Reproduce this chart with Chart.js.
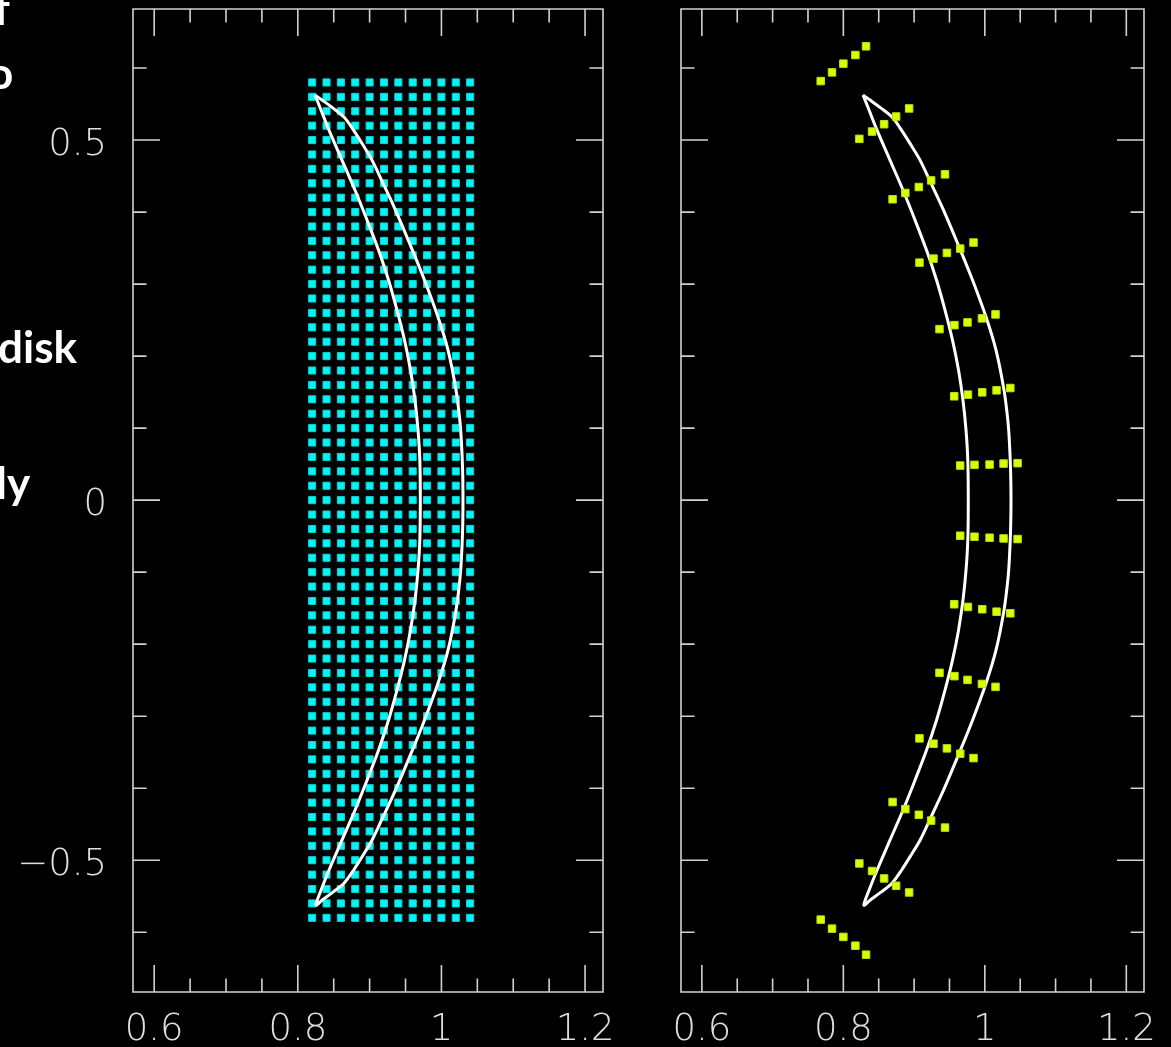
<!DOCTYPE html>
<html>
<head>
<meta charset="utf-8">
<script src="https://cdn.jsdelivr.net/npm/chart.js@4.4.1/dist/chart.umd.min.js"></script>
<style>
html,body{margin:0;padding:0;background:#000;width:1171px;height:1047px;overflow:hidden;position:relative;}
canvas{position:absolute;top:0;}
#c1{left:0px;}
#c2{left:640px;}
.side{position:absolute;color:#fff;font-family:Lato,'Open Sans',sans-serif;font-weight:700;font-size:44px;line-height:44px;white-space:nowrap;}
</style>
</head>
<body>
<canvas id="c1" width="640" height="1047"></canvas>
<canvas id="c2" width="531" height="1047"></canvas>
<div class="side" style="left:-6px;top:-14px;">f</div>
<div class="side" style="left:-12px;top:50px;">o</div>
<div class="side" style="left:-2px;top:324px;">disk</div>
<div class="side" style="left:-4px;top:460px;">ly</div>
<script>
// ---------- axis ticks ----------
const majorX = [0.6, 0.8, 1.0, 1.2];
const minorX = [0.65, 0.7, 0.75, 0.85, 0.9, 0.95, 1.05, 1.1, 1.15];
const majorY = [-0.5, 0, 0.5];
const minorY = [-0.6, -0.4, -0.3, -0.2, -0.1, 0.1, 0.2, 0.3, 0.4, 0.6];
const xRange = [0.5705, 1.225];
const yRange = [-0.683, 0.682];

// ---------- left panel: source grid ----------
const gridCols = [0.82, 0.84, 0.86, 0.88, 0.90, 0.92, 0.94, 0.96, 0.98, 1.00, 1.02, 1.04];
const gridRows = [0.58, 0.56, 0.54, 0.52, 0.50, 0.48, 0.46, 0.44, 0.42, 0.40,
  0.38, 0.36, 0.34, 0.32, 0.30, 0.28, 0.26, 0.24, 0.22, 0.20,
  0.18, 0.16, 0.14, 0.12, 0.10, 0.08, 0.06, 0.04, 0.02, 0.00,
  -0.02, -0.04, -0.06, -0.08, -0.10, -0.12, -0.14, -0.16, -0.18, -0.20,
  -0.22, -0.24, -0.26, -0.28, -0.30, -0.32, -0.34, -0.36, -0.38, -0.40,
  -0.42, -0.44, -0.46, -0.48, -0.50, -0.52, -0.54, -0.56, -0.58];

// ---------- crescent curves (closed: top tip, inner edge down, bottom tip, outer edge up) ----------
const curveY = [0.5625,
  0.5417, 0.5139, 0.4722, 0.4306, 0.3889, 0.3472, 0.3056, 0.2639, 0.2222, 0.1806, 0.1389, 0.0972, 0.0556, 0,
  -0.0556, -0.0972, -0.1389, -0.1806, -0.2222, -0.2639, -0.3056, -0.3472, -0.3889, -0.4306, -0.4722, -0.5139, -0.5417,
  -0.5625,
  -0.5556, -0.5444, -0.5319, -0.5139, -0.4931, -0.4722, -0.4431, -0.4028, -0.3486, -0.3056, -0.2542, -0.2083, -0.1528, -0.1111, -0.0833, -0.0417, 0,
  0.0417, 0.0833, 0.1111, 0.1528, 0.2083, 0.2542, 0.3056, 0.3486, 0.4028, 0.4431, 0.4722, 0.4931, 0.5139, 0.5319, 0.5444, 0.5556,
  0.5625];

const leftCurveX = [0.8239,
  0.8323, 0.8434, 0.8615, 0.8796, 0.8964, 0.9124, 0.9263, 0.9381, 0.9486, 0.9569, 0.9632, 0.9674, 0.9699, 0.9706,
  0.9699, 0.9674, 0.9632, 0.9569, 0.9486, 0.9381, 0.9263, 0.9124, 0.8964, 0.8796, 0.8615, 0.8434, 0.8323,
  0.8252,
  0.8337, 0.8490, 0.8643, 0.8776, 0.8908, 0.9033, 0.9172, 0.9360, 0.9590, 0.9764, 0.9952, 1.0092, 1.0203, 1.0256, 1.0277, 1.0295, 1.0300,
  1.0295, 1.0277, 1.0256, 1.0203, 1.0092, 0.9952, 0.9764, 0.9590, 0.9360, 0.9172, 0.9033, 0.8908, 0.8776, 0.8643, 0.8490, 0.8337,
  0.8239];

const rightCurveX = [0.8278,
  0.8363, 0.8476, 0.8659, 0.8843, 0.9013, 0.9175, 0.9317, 0.9437, 0.9543, 0.9628, 0.9691, 0.9734, 0.9759, 0.9766,
  0.9759, 0.9734, 0.9691, 0.9628, 0.9543, 0.9437, 0.9317, 0.9175, 0.9013, 0.8843, 0.8659, 0.8476, 0.8363,
  0.8290,
  0.8377, 0.8532, 0.8688, 0.8822, 0.8956, 0.9084, 0.9225, 0.9416, 0.9649, 0.9826, 1.0017, 1.0158, 1.0271, 1.0325, 1.0346, 1.0364, 1.0370,
  1.0364, 1.0346, 1.0325, 1.0271, 1.0158, 1.0017, 0.9826, 0.9649, 0.9416, 0.9225, 0.9084, 0.8956, 0.8822, 0.8688, 0.8532, 0.8377,
  0.8278];

// ---------- right panel: images ----------
const imageX = [
  0.7680, 0.7840, 0.8000, 0.8170, 0.8321,
  0.8226, 0.8406, 0.8576, 0.8746, 0.8930,
  0.8696, 0.8876, 0.9067, 0.9241, 0.9437,
  0.9076, 0.9274, 0.9464, 0.9652, 0.9840,
  0.9359, 0.9570, 0.9755, 0.9959, 1.0151,
  0.9567, 0.9761, 0.9963, 1.0166, 1.0360,
  0.9652, 0.9854, 1.0067, 1.0265, 1.0463,
  0.9652, 0.9854, 1.0067, 1.0265, 1.0463,
  0.9567, 0.9761, 0.9963, 1.0166, 1.0360,
  0.9359, 0.9570, 0.9755, 0.9959, 1.0151,
  0.9076, 0.9274, 0.9464, 0.9652, 0.9840,
  0.8696, 0.8876, 0.9067, 0.9241, 0.9437,
  0.8226, 0.8406, 0.8576, 0.8746, 0.8930,
  0.7680, 0.7840, 0.8000, 0.8170, 0.8321];
const imageY = [
  0.5819, 0.5940, 0.6061, 0.6181, 0.6302,
  0.5017, 0.5118, 0.5220, 0.5327, 0.5439,
  0.4178, 0.4265, 0.4348, 0.4440, 0.4524,
  0.3298, 0.3354, 0.3433, 0.3493, 0.3577,
  0.2375, 0.2430, 0.2468, 0.2524, 0.2579,
  0.1442, 0.1465, 0.1497, 0.1525, 0.1557,
  0.0480, 0.0490, 0.0494, 0.0508, 0.0513,
  -0.0494, -0.0508, -0.0522, -0.0532, -0.0540,
  -0.1446, -0.1483, -0.1515, -0.1549, -0.1571,
  -0.2398, -0.2444, -0.2496, -0.2552, -0.2593,
  -0.3308, -0.3382, -0.3447, -0.3521, -0.3582,
  -0.4192, -0.4290, -0.4369, -0.4450, -0.4547,
  -0.5045, -0.5150, -0.5253, -0.5355, -0.5448,
  -0.5825, -0.5950, -0.6065, -0.6187, -0.6312];

// ---------- helpers building library data ----------
const zip = (xs, ys) => xs.map((x, i) => ({x: x, y: ys[i]}));
const gridPoints = [];
gridRows.forEach(r => gridCols.forEach(c => gridPoints.push({x: c, y: r})));

const AXIS_COLOR = '#d2d2d2';
const LABEL_FONT = {family: "'DejaVu Sans', 'Liberation Sans', sans-serif", size: 37, weight: 200};

const frameTicks = {
  id: 'frameTicks',
  beforeDatasetsDraw(chart) {
    const {ctx, chartArea: a} = chart;
    const sx = chart.scales.x, sy = chart.scales.y;
    ctx.save();
    ctx.strokeStyle = AXIS_COLOR;
    ctx.lineWidth = 1.6;
    ctx.beginPath();
    ctx.rect(a.left, a.top, a.right - a.left, a.bottom - a.top);
    const tx = (vals, len) => vals.forEach(v => {
      const p = sx.getPixelForValue(v);
      ctx.moveTo(p, a.bottom); ctx.lineTo(p, a.bottom - len);
      ctx.moveTo(p, a.top); ctx.lineTo(p, a.top + len);
    });
    const ty = (vals, len) => vals.forEach(v => {
      const p = sy.getPixelForValue(v);
      ctx.moveTo(a.left, p); ctx.lineTo(a.left + len, p);
      ctx.moveTo(a.right, p); ctx.lineTo(a.right - len, p);
    });
    tx(majorX, 27); tx(minorX, 13.5);
    ty(majorY, 27); ty(minorY, 13.5);
    ctx.stroke();
    ctx.restore();
  }
};

function makeScales(showY, yWidth) {
  return {
    x: {
      type: 'linear', position: 'bottom', min: xRange[0], max: xRange[1],
      afterBuildTicks: s => { s.ticks = majorX.map(v => ({value: v})); },
      afterFit: s => { s.height = 55; s.paddingLeft = 0; s.paddingRight = 0; },
      grid: {display: false, drawTicks: false},
      border: {display: false},
      ticks: {
        color: '#dedede', font: LABEL_FONT, padding: 16, autoSkip: false, maxRotation: 0,
        callback: v => String(Math.round(v * 10) / 10)
      }
    },
    y: {
      type: 'linear', position: 'left', min: yRange[0], max: yRange[1],
      afterBuildTicks: s => { s.ticks = majorY.map(v => ({value: v})); },
      afterFit: s => { s.width = yWidth; s.paddingTop = 0; s.paddingBottom = 0; },
      grid: {display: false, drawTicks: false},
      border: {display: false},
      ticks: {
        display: showY, color: '#dedede', font: LABEL_FONT, padding: 26, labelOffset: 5, autoSkip: false,
        callback: v => v < 0 ? '\u2212' + String(Math.abs(v)) : String(v)
      }
    }
  };
}

const commonOpts = (showY, yWidth, pad) => ({
  responsive: false,
  animation: false,
  layout: {padding: pad},
  plugins: {legend: {display: false}, tooltip: {enabled: false}},
  scales: makeScales(showY, yWidth)
});

new Chart(document.getElementById('c1'), {
  type: 'scatter',
  data: {
    datasets: [
      {
        data: zip(leftCurveX, curveY), showLine: true, pointRadius: 0,
        borderColor: '#ffffff', borderWidth: 3, tension: 0.3, fill: false
      },
      {
        data: gridPoints, pointStyle: 'rect', pointRadius: 5, borderWidth: 1,
        backgroundColor: '#06f4f4', borderColor: '#00d8d8'
      }
    ]
  },
  options: commonOpts(true, 133, {top: 9, right: 37, left: 0, bottom: 0}),
  plugins: [frameTicks]
});

new Chart(document.getElementById('c2'), {
  type: 'scatter',
  data: {
    datasets: [
      {
        data: zip(imageX, imageY), pointStyle: 'rect', pointRadius: 5.3, borderWidth: 1,
        backgroundColor: '#d9ff00', borderColor: '#bfe000'
      },
      {
        data: zip(rightCurveX, curveY), showLine: true, pointRadius: 0,
        borderColor: '#ffffff', borderWidth: 3, tension: 0.3, fill: false
      }
    ]
  },
  options: commonOpts(false, 41, {top: 9, right: 27, left: 0, bottom: 0}),
  plugins: [frameTicks]
});
</script>
</body>
</html>
